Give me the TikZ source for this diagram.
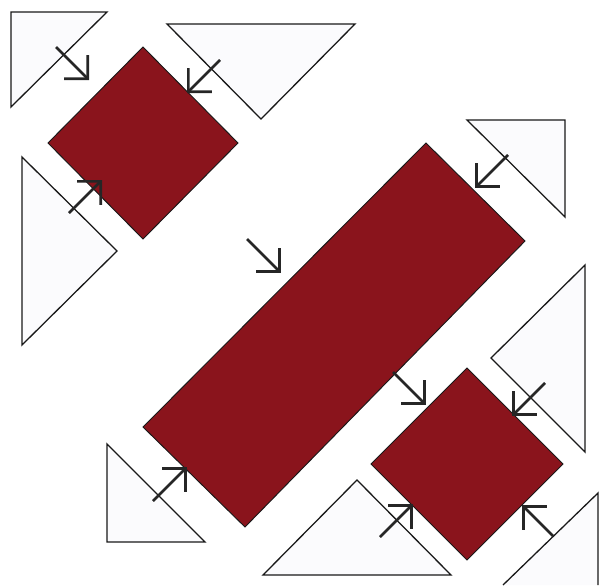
\documentclass[tikz,border=0pt]{standalone}
\usetikzlibrary{arrows.meta}
\definecolor{maroon}{RGB}{138,20,28}
\definecolor{paleblue}{RGB}{251,251,253}

\begin{document}
\begin{tikzpicture}[
  x=0.03cm, y=-0.03cm,
  patch/.style={draw=black!90, line width=0.8pt, fill=maroon, line join=miter},
  corner/.style={draw=black!90, line width=1.1pt, fill=paleblue, line join=miter},
  arr/.style={-{Straight Barb[length=5mm, width=10mm, line width=2.2pt]}, line width=2.3pt, black!85}]
  \useasboundingbox (0,0) rectangle (599,585);
  % light corner triangles
  \draw[corner] (11,12) -- (107,12) -- (11,107) -- cycle;
  \draw[corner] (167,24) -- (355,24) -- (261,119) -- cycle;
  \draw[corner] (22,157) -- (117,251) -- (22,345) -- cycle;
  \draw[corner] (467,120) -- (565,120) -- (565,217) -- cycle;
  \draw[corner] (585,265) -- (585,452) -- (491,358) -- cycle;
  \draw[corner] (107,444) -- (205,542) -- (107,542) -- cycle;
  \draw[corner] (357,480) -- (451,575) -- (263,575) -- cycle;
  \draw[corner] (503,585) -- (598,493) -- (598,585);
  % red patches
  \draw[patch] (143,47) -- (238,143) -- (143,239) -- (48,143) -- cycle;
  \draw[patch] (426,143) -- (525,241) -- (245,527) -- (143,427) -- cycle;
  \draw[patch] (467,368) -- (563,464) -- (467,560) -- (371,464) -- cycle;
  % arrows
  \foreach \xa/\ya/\xb/\yb in {56/47/89/80, 220/60/187/93, 69/213/102/180,
    247/239/281/273, 508/155/475/188, 393/372/426/405, 545/383/512/416,
    380/537/413/504, 553/536/522/505, 153/501/187/467}
    \draw[arr] (\xa,\ya) -- (\xb,\yb);
\end{tikzpicture}
\end{document}
